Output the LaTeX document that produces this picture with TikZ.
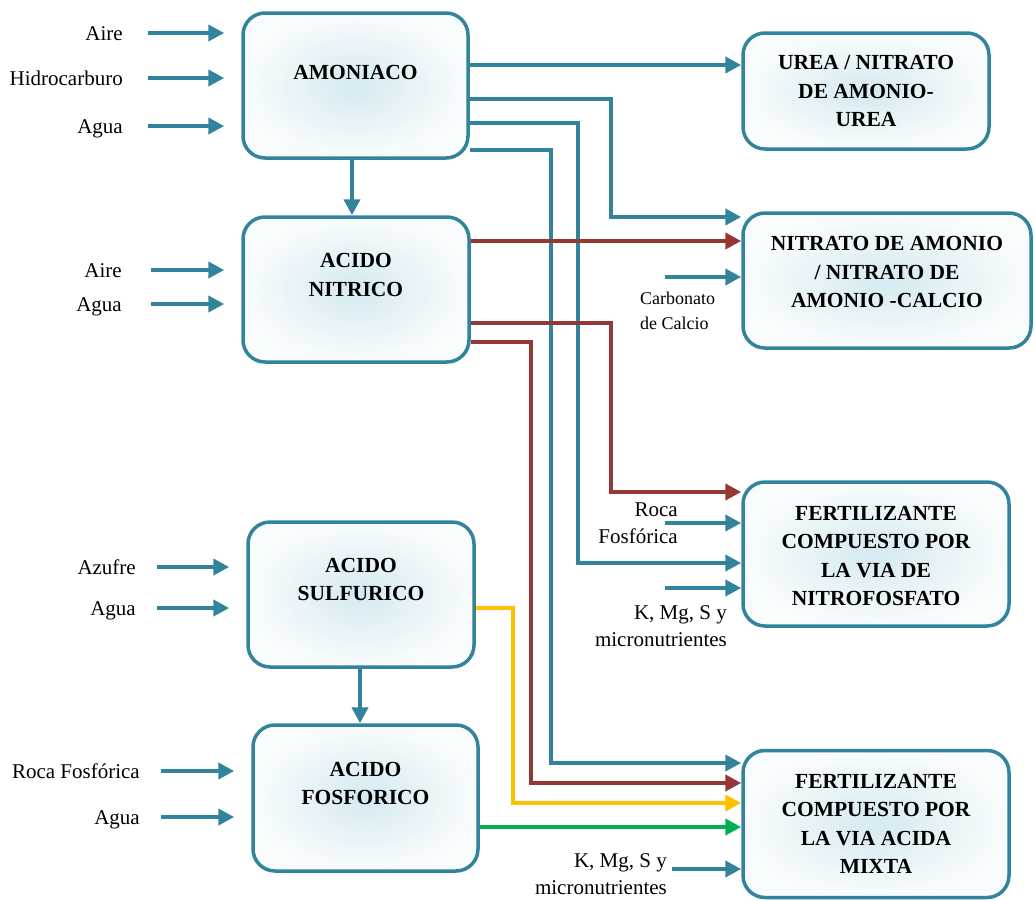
\documentclass[tikz,border=0pt]{standalone}
\usepackage{fontspec}
\setmainfont{Liberation Serif}
\usetikzlibrary{arrows.meta, positioning}

\definecolor{flowblue}{RGB}{49,132,155}
\definecolor{flowred}{RGB}{149,55,53}
\definecolor{flowyellow}{RGB}{255,192,0}
\definecolor{flowgreen}{RGB}{0,176,80}
\definecolor{boxin}{RGB}{212,234,241}
\definecolor{boxout}{RGB}{249,252,253}

\begin{document}
\begin{tikzpicture}[x=1pt, y=-1pt,
  proc/.style={draw=flowblue, line width=3.5pt, rounded corners=22pt,
    inner color=boxin, outer color=boxout},
  proctext/.style={align=center, font=\fontsize{21.5}{28.5}\selectfont\bfseries},
  feed/.style={anchor=east, inner sep=1pt, text height=14pt, text depth=0pt,
    font=\fontsize{21}{27}\selectfont},
  sidefeed/.style={align=right, inner sep=1pt, font=\fontsize{21}{27.5}\selectfont},
  flow/.style={line width=4pt, -{Triangle[length=16pt,width=16pt]}},
  feedarrow/.style={flow, flowblue, shorten >=17pt}]

\useasboundingbox (0,0) rectangle (1035,900);

\node[proc, minimum width=225, minimum height=145] (amon) at (355.5,85.5) {};
\node[proc, minimum width=226, minimum height=145] (nitr) at (356,289.5) {};
\node[proc, minimum width=226, minimum height=145] (sulf) at (361,594.5) {};
\node[proc, minimum width=225, minimum height=146] (fosf) at (365.5,798) {};
\node[proc, minimum width=246, minimum height=116] (urea) at (866,91) {};
\node[proc, minimum width=288, minimum height=135] (nitrato) at (887,280.5) {};
\node[proc, minimum width=266, minimum height=144] (fnitro) at (876,554) {};
\node[proc, minimum width=266, minimum height=147] (fmixta) at (876,824) {};

\node[proctext] (amon-t) at ([yshift=13.5pt]amon.center) {AMONIACO};
\node[proctext] (nitr-t) at ([yshift=14.5pt]nitr.center) {ACIDO\\NITRICO};
\node[proctext] (sulf-t) at ([yshift=15pt]sulf.center) {ACIDO\\SULFURICO};
\node[proctext] (fosf-t) at ([yshift=14.5pt]fosf.center) {ACIDO\\FOSFORICO};
\node[proctext] (urea-t) at (urea.center) {UREA / NITRATO\\DE AMONIO-\\UREA};
\node[proctext] (nitrato-t) at ([yshift=8.5pt]nitrato.center) {NITRATO DE AMONIO\\/ NITRATO DE\\AMONIO -CALCIO};
\node[proctext] (fnitro-t) at ([yshift=-2pt]fnitro.center) {FERTILIZANTE\\COMPUESTO POR\\LA VIA DE\\NITROFOSFATO};
\node[proctext] (fmixta-t) at (fmixta.center) {FERTILIZANTE\\COMPUESTO POR\\LA VIA ACIDA\\MIXTA};

\node[feed] (aire1) at (124,33) {Aire};
\node[feed] (hidro) at (124,78) {Hidrocarburo};
\node[feed] (agua1) at (124,126) {Agua};
\node[feed] (aire2) at (123,270) {Aire};
\node[feed] (agua2) at (123,304) {Agua};
\node[feed] (azufre) at (137,567) {Azufre};
\node[feed] (agua3) at (137,608) {Agua};
\node[feed] (roca1) at (141,771) {Roca Fosfórica};
\node[feed] (agua4) at (141,817) {Agua};

\draw[feedarrow] (aire1.east) ++(24pt,0) -- (amon.west |- aire1.east);
\draw[feedarrow] (hidro.east) ++(24pt,0) -- (amon.west |- hidro.east);
\draw[feedarrow] (agua1.east) ++(24pt,0) -- (amon.west |- agua1.east);
\draw[feedarrow] (aire2.east) ++(28pt,0) -- (nitr.west |- aire2.east);
\draw[feedarrow] (agua2.east) ++(28pt,0) -- (nitr.west |- agua2.east);
\draw[feedarrow] (azufre.east) ++(20pt,0) -- (sulf.west |- azufre.east);
\draw[feedarrow] (agua3.east) ++(20pt,0) -- (sulf.west |- agua3.east);
\draw[feedarrow] (roca1.east) ++(20pt,0) -- (fosf.west |- roca1.east);
\draw[feedarrow] (agua4.east) ++(20pt,0) -- (fosf.west |- agua4.east);

\draw[flow, flowblue] (amon.south -| 352,0) -- (nitr.north -| 352,0);
\draw[flow, flowblue] (sulf.south -| 360,0) -- (fosf.north -| 360,0);

\draw[flow, flowblue] (amon.east |- 0,65) -- (urea.west |- 0,65);
\draw[flow, flowblue] (amon.east |- 0,99) -| (611,217) -- (nitrato.west |- 0,217);
\draw[flow, flowblue] (amon.east |- 0,123) -| (578,563) -- (fnitro.west |- 0,563);
\draw[flow, flowblue] (amon.east |- 0,150) -| (551,763) -- (fmixta.west |- 0,763);

\draw[flow, flowred] (nitr.east |- 0,241) -- (nitrato.west |- 0,241);
\draw[flow, flowred] (nitr.east |- 0,323) -| (611,492) -- (fnitro.west |- 0,492);
\draw[flow, flowred] (nitr.east |- 0,342) -| (531,783) -- (fmixta.west |- 0,783);

\draw[flow, flowyellow] (sulf.east |- 0,608) -| (513,803) -- (fmixta.west |- 0,803);
\draw[flow, flowgreen] (fosf.east |- 0,827) -- (fmixta.west |- 0,827);

\node[sidefeed, anchor=north west, align=left, font=\fontsize{18}{25}\selectfont] (carb) at (639,291) {Carbonato\\de Calcio};
\node[sidefeed, anchor=east] (roca2) at (679,523) {Roca\\Fosfórica};
\node[sidefeed, anchor=east] (kmg1) at (728,626) {K, Mg, S y\\micronutrientes};
\node[sidefeed, anchor=east] (kmg2) at (668,874) {K, Mg, S y\\micronutrientes};

\coordinate (carb-in) at (665,277);
\coordinate (roca2-in) at (665,523);
\coordinate (kmg1-in) at (665,588);
\coordinate (kmg2-in) at (672,869);

\draw[flow, flowblue] (carb-in) -- (nitrato.west |- carb-in);
\draw[flow, flowblue] (roca2-in) -- (fnitro.west |- roca2-in);
\draw[flow, flowblue] (kmg1-in) -- (fnitro.west |- kmg1-in);
\draw[flow, flowblue] (kmg2-in) -- (fmixta.west |- kmg2-in);
\end{tikzpicture}
\end{document}
